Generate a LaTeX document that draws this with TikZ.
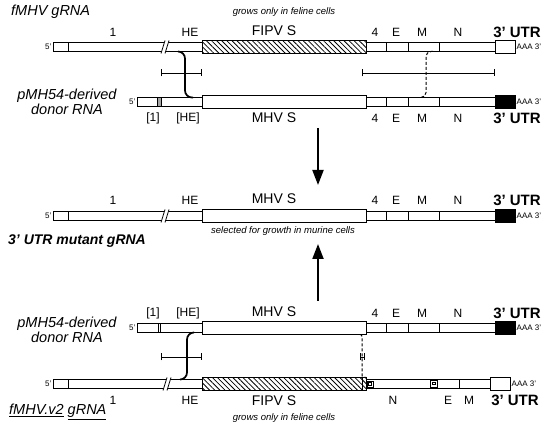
\documentclass[tikz,border=0pt]{standalone}
\usepackage{fontspec}
\setmainfont{Liberation Sans}
\usetikzlibrary{arrows.meta,patterns.meta}

\tikzset{
  seg/.style={draw,fill=white,line width=0.9pt},
  hatch/.style={draw,line width=0.9pt,pattern={Lines[angle=-45,distance=3.6pt,line width=0.8pt]}},
  utrbox/.style={draw,fill=black,line width=0.9pt},
  gname/.style={font=\fontsize{12}{12}\selectfont,inner sep=0pt},
  sname/.style={font=\fontsize{14}{14}\selectfont,inner sep=0pt},
  utrname/.style={font=\bfseries\fontsize{15}{15}\selectfont,inner sep=0pt},
  endtag/.style={font=\fontsize{8}{8}\selectfont,inner sep=1.5pt},
  rnaname/.style={font=\itshape\fontsize{14.5}{15.5}\selectfont,inner sep=0pt,align=center},
  note/.style={font=\itshape\fontsize{9.5}{10}\selectfont,inner sep=0pt},
  xover/.style={line width=1.7pt,rounded corners=7pt},
  xoverdash/.style={line width=1pt,dash pattern=on 3pt off 2pt,rounded corners=5pt},
  scalebar/.style={line width=0.7pt,{Bar[width=7pt]}-{Bar[width=7pt]}},
  bigarrow/.style={line width=2pt,-{Triangle[length=15pt,width=11pt]}}
}

% slanted double break across a thin segment
\newcommand\rnabreak[2]{%
  \fill[white] (#1-3,#2+6.5) -- (#1+1,#2+6.5) -- (#1+5,#2-6.5) -- (#1+1,#2-6.5) -- cycle;
  \draw[line width=0.8pt] (#1-3,#2+6.5) -- (#1+1,#2-6.5) (#1+1,#2+6.5) -- (#1+5,#2-6.5);
}

\begin{document}
\begin{tikzpicture}[x=1pt,y=-1pt]
  \useasboundingbox (0,0) rectangle (547,435);
  % row centres and half heights
  \def\yA{47} \def\yB{102} \def\yC{216} \def\yD{328} \def\yE{384}
  \def\hThin{4.5} \def\hTall{6.5}

  % --- fMHV gRNA (top)
  \draw[seg] (53,\yA-\hThin) rectangle (202,\yA+\hThin);
  \draw[line width=0.8pt] (68,\yA-\hThin) -- (68,\yA+\hThin);
  \rnabreak{164}{\yA}
  \draw[hatch] (202,\yA-\hTall) rectangle (366,\yA+\hTall);
  \draw[seg] (495,\yA-\hTall) rectangle (515,\yA+\hTall);

  % --- donor RNA (upper)
  \draw[seg] (137,\yB-\hThin) rectangle (202,\yB+\hThin);
  \filldraw[fill=gray!70,line width=0.4pt] (157,\yB-\hThin) rectangle (161,\yB+\hThin);
  \draw[seg] (202,\yB-\hTall) rectangle (366,\yB+\hTall);
  \draw[utrbox] (495,\yB-\hTall) rectangle (515,\yB+\hTall);

  % --- 3' UTR mutant gRNA
  \draw[seg] (53,\yC-\hThin) rectangle (202,\yC+\hThin);
  \draw[line width=0.8pt] (68,\yC-\hThin) -- (68,\yC+\hThin);
  \rnabreak{164}{\yC}
  \draw[seg] (202,\yC-\hTall) rectangle (366,\yC+\hTall);
  \draw[utrbox] (495,\yC-\hTall) rectangle (515,\yC+\hTall);

  % --- donor RNA (lower)
  \draw[seg] (137,\yD-\hThin) rectangle (202,\yD+\hThin);
  \draw[line width=0.5pt] (158,\yD-\hThin) -- (158,\yD+\hThin) (160,\yD-\hThin) -- (160,\yD+\hThin);
  \draw[seg] (202,\yD-\hTall) rectangle (366,\yD+\hTall);
  \draw[utrbox] (495,\yD-\hTall) rectangle (515,\yD+\hTall);

  % 4, E, M, N segments shared by the four upper rows
  \foreach \y in {\yA,\yB,\yC,\yD} {
    \draw[seg] (366,\y-\hThin) rectangle (495,\y+\hThin);
    \foreach \dx in {386,408,439}
      \draw[line width=0.8pt] (\dx,\y-\hThin) -- (\dx,\y+\hThin);
  }

  % --- fMHV.v2 gRNA (bottom)
  \draw[seg] (53,\yE-\hThin) rectangle (202,\yE+\hThin);
  \draw[line width=0.8pt] (68,\yE-\hThin) -- (68,\yE+\hThin);
  \rnabreak{166}{\yE}
  \draw[hatch] (202,\yE-\hTall) rectangle (366,\yE+\hTall);
  \draw[line width=0.5pt] (362,\yE-\hTall) -- (362,\yE+\hTall);
  \draw[seg] (366,\yE-\hThin) rectangle (490,\yE+\hThin);
  \draw[line width=0.8pt] (459,\yE-\hThin) -- (459,\yE+\hThin);
  \draw[line width=0.5pt] (367,\yE-3) rectangle (373,\yE+3);
  \draw[line width=0.4pt] (368.5,\yE-1.5) rectangle (371.5,\yE+1);
  \draw[line width=0.5pt] (430,\yE-3.5) rectangle (437,\yE+3.5);
  \draw[line width=0.4pt] (432,\yE-1.5) rectangle (435,\yE+0.5);
  \draw[seg] (490,\yE-\hTall) rectangle (510,\yE+\hTall);

  % 5' and 3' end tags
  \node[endtag,anchor=east] (fiveA) at (53,\yA) {5'};
  \node[endtag,anchor=east] (fiveB) at (137,\yB) {5'};
  \node[endtag,anchor=east] (fiveC) at (53,\yC) {5'};
  \node[endtag,anchor=east] (fiveD) at (137,\yD) {5'};
  \node[endtag,anchor=east] (fiveE) at (53,\yE) {5'};
  \node[endtag,anchor=west] (polyA) at (515,\yA) {AAA 3'};
  \node[endtag,anchor=west] (polyB) at (515,\yB) {AAA 3'};
  \node[endtag,anchor=west] (polyC) at (515,\yC) {AAA 3'};
  \node[endtag,anchor=west] (polyD) at (515,\yD) {AAA 3'};
  \node[endtag,anchor=west] (polyE) at (510,\yE) {AAA 3'};

  % gene labels
  \node[gname] (oneA) at (113,32) {1};
  \node[gname] (heA) at (190,32) {HE};
  \node[sname] (spikeA) at (274,31) {FIPV S};
  \node[gname] (oneB) at (153,118) {[1]};
  \node[gname] (heB) at (188,118) {[HE]};
  \node[sname] (spikeB) at (274,118) {MHV S};
  \node[gname] (oneC) at (113,200) {1};
  \node[gname] (heC) at (190,200) {HE};
  \node[sname] (spikeC) at (274,199) {MHV S};
  \node[gname] (oneD) at (153,313) {[1]};
  \node[gname] (heD) at (188,313) {[HE]};
  \node[sname] (spikeD) at (274,312) {MHV S};
  \foreach \r/\ly in {A/32,B/118,C/200,D/313} {
    \foreach \lx/\lt in {375/4,396/E,422/M,458/N}
      \node[gname] (g\r\lt) at (\lx,\ly) {\lt};
    \node[utrname] (utr\r) at (517,\ly) {3' UTR};
  }
  \node[gname] (oneE) at (113,400) {1};
  \node[gname] (heE) at (190,400) {HE};
  \node[sname] (spikeE) at (274,401) {FIPV S};
  \node[gname] (gEN) at (393,400) {N};
  \node[gname] (gEE) at (448,400) {E};
  \node[gname] (gEM) at (469,400) {M};
  \node[utrname] (utrE) at (515,400) {3' UTR};

  % RNA names and notes
  \node[rnaname,anchor=west] (nameA) at (11,12) {fMHV gRNA};
  \node[rnaname] (nameB) at (67,102) {pMH54-derived\\donor RNA};
  \node[rnaname,font=\bfseries\itshape\fontsize{14}{15}\selectfont,anchor=west] (nameC) at (8,241) {3' UTR mutant gRNA};
  \node[rnaname] (nameD) at (67,330) {pMH54-derived\\donor RNA};
  \node[rnaname,anchor=west] (nameE) at (9,412) {\underline{fMHV.v2} \underline{gRNA}};
  \node[note] (noteA) at (284,12) {grows only in feline cells};
  \node[note] (noteC) at (283,231) {selected for growth in murine cells};
  \node[note] (noteE) at (284,418) {grows only in feline cells};

  % crossover points
  \coordinate (xAt) at (178,\yA+\hThin);
  \coordinate (xAm) at (185,75);
  \coordinate (xAb) at (193,\yB-\hThin);
  \coordinate (xBt) at (433,\yA+\hThin);
  \coordinate (xBm) at (426,75);
  \coordinate (xBb) at (420,\yB-\hThin);
  \coordinate (xCt) at (193,\yD+\hThin);
  \coordinate (xCm) at (187,357);
  \coordinate (xCb) at (180,\yE-\hThin);
  \coordinate (xDt) at (360,\yD+\hTall);
  \coordinate (xDm) at (362,357);
  \coordinate (xDb) at (366,\yE-\hTall);
  \draw[xover] (xAt) -| (xAm) |- (xAb);
  \draw[xoverdash] (xBt) -| (xBm) |- (xBb);
  \draw[xover] (xCt) -| (xCm) |- (xCb);
  \draw[xoverdash,rounded corners=2pt] (xDt) -| (xDm) |- (xDb);

  % scale bars
  \coordinate (sbA) at (161,73); \coordinate (sbB) at (202,73);
  \coordinate (sbC) at (362,73); \coordinate (sbD) at (495,73);
  \coordinate (sbE) at (161,357); \coordinate (sbF) at (202,357);
  \coordinate (sbG) at (359.5,357); \coordinate (sbH) at (364.5,357);
  \draw[scalebar] (sbA) -- (sbB);
  \draw[scalebar] (sbC) -- (sbD);
  \draw[scalebar] (sbE) -- (sbF);
  \draw[scalebar] (sbG) -- (sbH);

  % selection arrows
  \coordinate (arDs) at (318,128); \coordinate (arDe) at (318,185);
  \coordinate (arUs) at (318,301); \coordinate (arUe) at (318,244);
  \draw[bigarrow] (arDs) -- (arDe);
  \draw[bigarrow] (arUs) -- (arUe);
\end{tikzpicture}
\end{document}
